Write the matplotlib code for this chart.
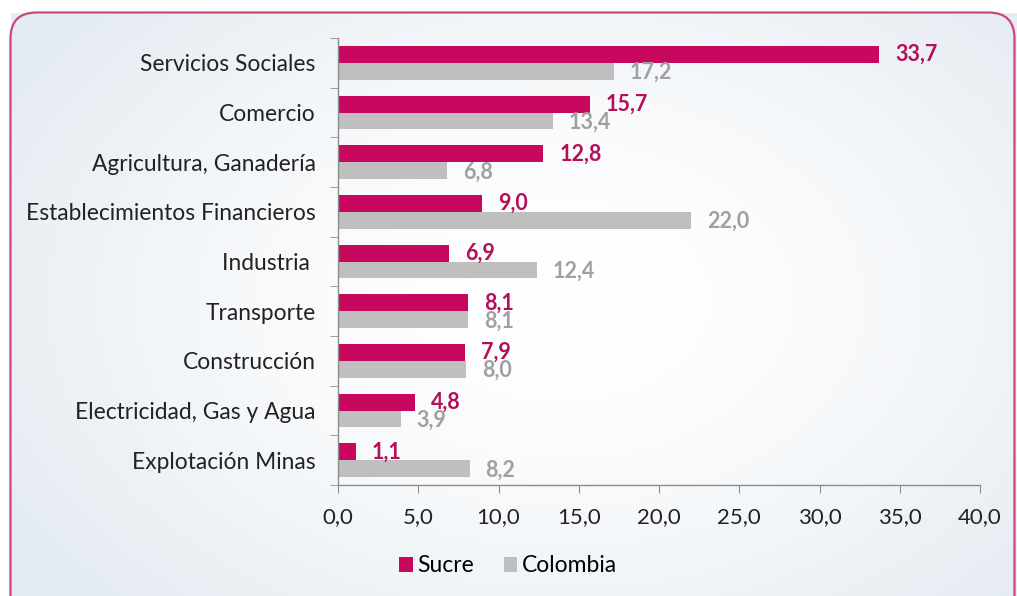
import numpy as np
import matplotlib
matplotlib.use("Agg")
import matplotlib.pyplot as plt
from matplotlib.patches import FancyBboxPatch, Patch
from matplotlib.ticker import FixedLocator

# ── data ──────────────────────────────────────────────
categories = ["Servicios Sociales", "Comercio", "Agricultura, Ganadería",
              "Establecimientos Financieros", "Industria ", "Transporte",
              "Construcción", "Electricidad, Gas y Agua", "Explotación Minas"]
sucre    = [33.7, 15.7, 12.8, 9.0, 6.9, 8.1, 7.9, 4.8, 1.1]
colombia = [17.2, 13.4, 6.8, 22.0, 12.4, 8.1, 8.0, 3.9, 8.2]
xticks   = [0, 5, 10, 15, 20, 25, 30, 35, 40]

MAGENTA   = "#C8085E"
MAG_TEXT  = "#B40F5A"
GRAY      = "#BFBFBF"
GRAY_TEXT = "#A0A0A0"

plt.rcParams["font.family"] = ["Lato", "DejaVu Sans"]

W, H = 1017, 596
fig = plt.figure(figsize=(W / 100, H / 100), dpi=100)

# background: soft radial gradient inside a rounded frame
bg = fig.add_axes([0, 0, 1, 1], zorder=-10)
bg.set_xlim(0, W)
bg.set_ylim(H, 0)
bg.axis("off")
yy, xx = np.mgrid[0:H, 0:W]
r = np.sqrt(((xx - 560) / 620.0) ** 2 + ((yy - 300) / 420.0) ** 2)
r = np.clip(r, 0, 1)
c0 = np.array([1.0, 1.0, 1.0])
c1 = np.array([0.90, 0.925, 0.95])
img = c0[None, None, :] * (1 - r[..., None] ** 1.6) + c1[None, None, :] * (r[..., None] ** 1.6)
bg.imshow(img, extent=(0, W, H, 0), aspect="auto")
bg.add_patch(plt.Rectangle((0, 0), W, 12, color="white", zorder=1))
bg.add_patch(plt.Rectangle((0, 0), 10, H, color="white", zorder=1))
bg.add_patch(FancyBboxPatch((10.5, 12.5), 1004, 610,
                            boxstyle="round,pad=0,rounding_size=26",
                            fc="none", ec="#C44A7C", lw=1.6, zorder=2))

ax = fig.add_axes([338 / W, 1 - 485 / H, (980 - 338) / W, (485 - 38) / H])
ax.patch.set_alpha(0)

y = np.arange(len(categories))
h = 0.34
ax.barh(y - h / 2, sucre, height=h, color=MAGENTA, label="Sucre")
ax.barh(y + h / 2, colombia, height=h, color=GRAY, label="Colombia")

for yi, s, c in zip(y, sucre, colombia):
    ax.annotate(f"{s:.1f}".replace(".", ","), (s, yi - h / 2), xytext=(11.5, 0),
                textcoords="offset points", va="center", ha="left",
                fontsize=15.5, fontweight="bold", color=MAG_TEXT)
    ax.annotate(f"{c:.1f}".replace(".", ","), (c, yi + h / 2), xytext=(11.5, -1),
                textcoords="offset points", va="center", ha="left",
                fontsize=15.5, fontweight="bold", color=GRAY_TEXT)

ax.set_ylim(len(categories) - 0.5, -0.5)
ax.set_xlim(0, 40)
ax.set_yticks(y)
ax.set_yticklabels(categories, fontsize=16.4, color="#222222")
ax.yaxis.set_minor_locator(FixedLocator(np.arange(-0.5, len(categories), 1)))
ax.tick_params(axis="y", which="major", length=0, pad=16)
ax.tick_params(axis="y", which="minor", length=6, color="#8C8C8C", direction="out")
ax.set_xticks(xticks)
ax.set_xticklabels([f"{v:.1f}".replace(".", ",") for v in xticks],
                   fontsize=16, color="#222222")
ax.tick_params(axis="x", length=6, color="#8C8C8C", direction="out", pad=10)

for side in ["top", "right"]:
    ax.spines[side].set_visible(False)
for side in ["left", "bottom"]:
    ax.spines[side].set_color("#8C8C8C")
    ax.spines[side].set_linewidth(1)

fig.legend(handles=[Patch(facecolor=MAGENTA, label="Sucre"),
                    Patch(facecolor=GRAY, label="Colombia")],
           loc="center", bbox_to_anchor=(508 / W, 1 - 566 / H), ncol=2,
           frameon=False, fontsize=16.5, handlelength=0.6, handleheight=0.6,
           handletextpad=0.2, columnspacing=1.3)

fig.savefig("out.png", dpi=100)
